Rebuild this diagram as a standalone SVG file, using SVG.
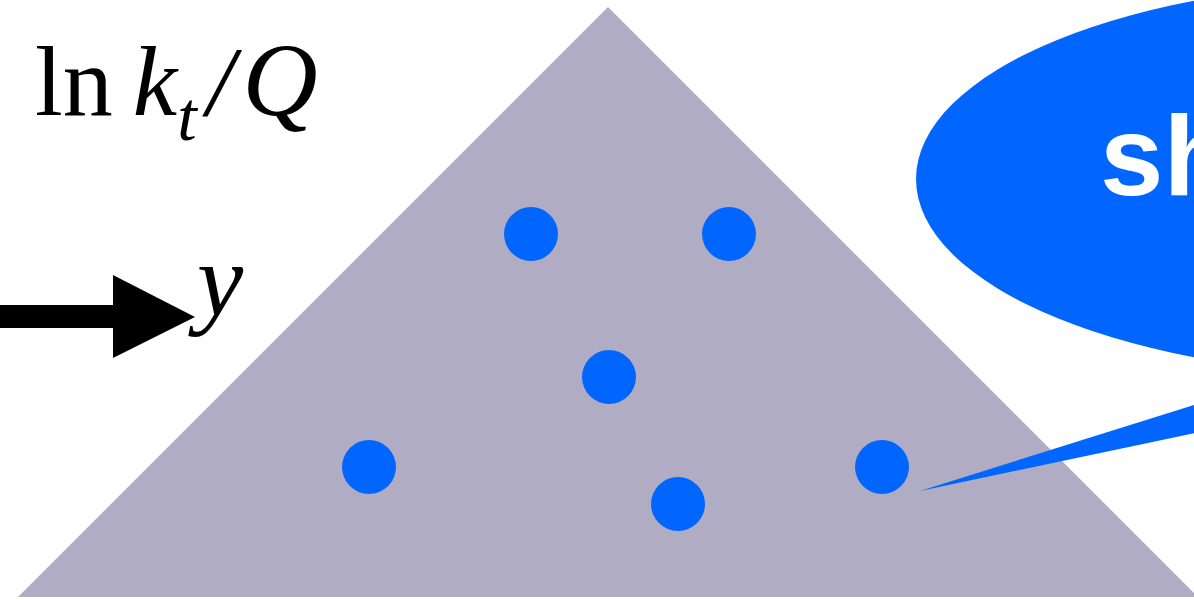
<svg xmlns="http://www.w3.org/2000/svg" width="1194" height="600" viewBox="0 0 1194 600">
<style>
.dot{fill:#0066ff}
.math{font-family:"Liberation Serif",serif;fill:#000}
.it{font-style:italic}
</style>
<rect width="1194" height="600" fill="#fff"/>
<g id="triangle"><polygon points="18,597 608,7 1198,597" fill="#b0acc4"/></g>
<g id="bubble">
<ellipse cx="1400" cy="179" rx="484" ry="197" fill="#0066ff"/>
<path d="M920,491 L1200,403 L1200,432 Z" fill="#0066ff"/>
<text x="1100" y="195" font-family="Liberation Sans,Arial,sans-serif" font-weight="bold" font-size="114" fill="#fff">sh</text>
</g>
<g id="dots">
<circle class="dot" cx="531" cy="234" r="27"/>
<circle class="dot" cx="729" cy="234" r="27"/>
<circle class="dot" cx="609" cy="377" r="27"/>
<circle class="dot" cx="369" cy="467" r="27"/>
<circle class="dot" cx="678" cy="504" r="27"/>
<circle class="dot" cx="882" cy="467" r="27"/>
</g>
<g id="label">
<text class="math" x="35" y="115" font-size="100">ln<tspan class="it" dx="20">k</tspan><tspan class="it" font-size="70" dy="25">t</tspan><tspan class="it" dy="-25" dx="10">/</tspan><tspan class="it" dx="8" font-size="104">Q</tspan></text>
</g>
<g id="connectors">
<rect x="0" y="305" width="116" height="23" fill="#000"/>
<polygon points="113,275 195,317 113,358" fill="#000"/>
<text class="math it" x="197" y="315" font-size="104">y</text>
</g>
</svg>
